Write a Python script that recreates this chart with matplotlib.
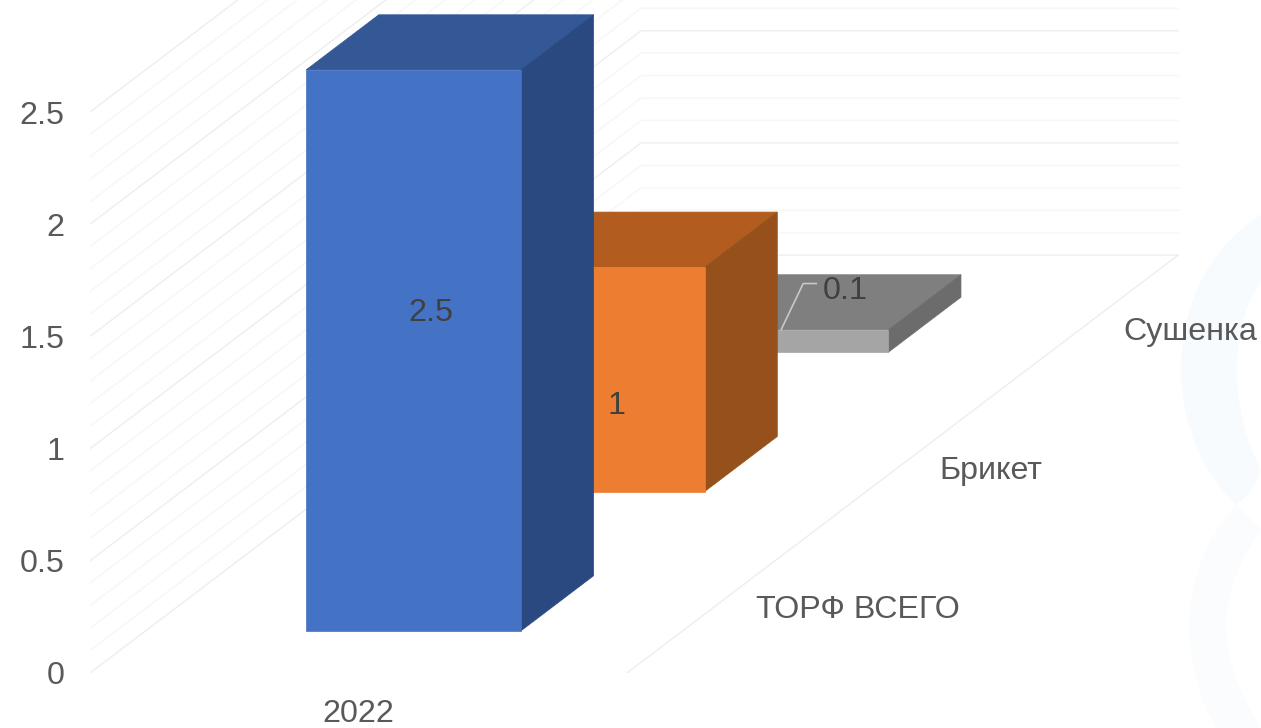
import numpy as np
import matplotlib
matplotlib.use("Agg")
import matplotlib.pyplot as plt
from matplotlib.path import Path
from matplotlib.patches import PathPatch

plt.rcParams['font.family'] = ['Liberation Sans', 'DejaVu Sans']

# data
years = ['2022']
series = ['ТОРФ ВСЕГО', 'Брикет', 'Сушенка']
values = [2.5, 1, 0.1]
value_labels = ['2.5', '1', '0.1']
y_ticks = [0, 0.5, 1, 1.5, 2, 2.5]
y_ticklabels = ['0', '0.5', '1', '1.5', '2', '2.5']

# colours per series: front, top, side
front = ['#4472C4', '#ED7D31', '#A5A5A5']
top = ['#345795', '#B25D1F', '#7F7F7F']
side = ['#2A4980', '#95501B', '#6C6C6C']

# pixel scales of the chart box
W, H = 1261, 728
X0, Y0 = 90, 673         # where x=0, value=0 sits
PX_X = 537.0             # px per category
PX_Y = 224.4             # px per value unit
DEPTH_X = 183.7 / PX_X   # oblique shift per series, in data units
DEPTH_Y = 139.3 / PX_Y

BAR_L, BAR_R = 0.299, 0.699
DEPTH_F, DEPTH_B = 0.302, 0.698
FS = 23.2


def project(x, d, v):
    return x + d * DEPTH_X, v + d * DEPTH_Y


def box_face(corners):
    xs, ys = zip(*[project(*c) for c in corners])
    return xs, ys


fig = plt.figure(figsize=(W / 100, H / 100), dpi=100)


def px(x, y):
    return x / W, 1 - y / H


# faint background swooshes on the right
def swoosh(points, color):
    verts = [px(*p) for p in points]
    codes = [Path.MOVETO] + [Path.CURVE4] * (len(points) - 1)
    fig.add_artist(PathPatch(Path(verts, codes), fc=color, ec='none',
                             transform=fig.transFigure, zorder=0))


swoosh([(1261, 215), (1205, 250), (1180, 310), (1181, 375),
        (1183, 430), (1205, 475), (1236, 505),
        (1250, 495), (1256, 485), (1261, 470),
        (1245, 440), (1237, 405), (1237, 370),
        (1237, 330), (1247, 300), (1261, 283),
        (1261, 260), (1261, 235), (1261, 215)], '#F7FBFD')
swoosh([(1236, 505), (1205, 540), (1190, 580), (1189, 625),
        (1190, 665), (1200, 700), (1216, 728),
        (1232, 728), (1247, 728), (1261, 728),
        (1240, 695), (1226, 660), (1226, 625),
        (1226, 590), (1242, 555), (1261, 530),
        (1253, 520), (1245, 513), (1236, 505)], '#FAFCFD')

ax = fig.add_axes([X0 / W, 1 - Y0 / H, (W - X0) / W, Y0 / H])
ax.patch.set_alpha(0)
ax.set_frame_on(False)
ax.set_xlim(0, (W - X0) / PX_X)
ax.set_ylim(0, Y0 / PX_Y)

# gridlines on left and back walls, every 0.1, stronger at 0.5
n_series = len(series)
for i in range(0, 26):
    v = i / 10
    col = '#EFEFEF' if i % 5 == 0 else '#F7F7F7'
    xs, ys = box_face([(0, 0, v), (0, n_series, v), (1, n_series, v)])
    ax.plot(xs, ys, color=col, lw=1.1, zorder=1)

# floor edge on the right
xs, ys = box_face([(1, 0, 0), (1, n_series, 0)])
ax.plot(xs, ys, color='#EFEFEF', lw=1.1, zorder=1)

# bars, back to front
for i in reversed(range(n_series)):
    v = values[i]
    d0, d1 = i + DEPTH_F, i + DEPTH_B
    z = 5 + (n_series - i)
    fx, fy = box_face([(BAR_L, d0, 0), (BAR_R, d0, 0), (BAR_R, d0, v), (BAR_L, d0, v)])
    tx, ty = box_face([(BAR_L, d0, v), (BAR_R, d0, v), (BAR_R, d1, v), (BAR_L, d1, v)])
    sx, sy = box_face([(BAR_R, d0, 0), (BAR_R, d1, 0), (BAR_R, d1, v), (BAR_R, d0, v)])
    ax.fill(tx, ty, color=top[i], lw=0.5, zorder=z)
    ax.fill(sx, sy, color=side[i], lw=0.5, zorder=z)
    ax.fill(fx, fy, color=front[i], lw=0.5, zorder=z)

# value labels, offset in px from the middle of each bar
label_off = [(-19, 10), (-17, -54), (28, 23)]
for i in range(n_series):
    ax_x, ax_y = project((BAR_L + BAR_R) / 2, i + 0.5, values[i] / 2)
    ax.annotate(value_labels[i], xy=(ax_x, ax_y), xytext=label_off[i],
                textcoords='offset pixels', ha='center', va='center',
                fontsize=FS, color='#404040', zorder=20, annotation_clip=False)
    if i == 2:
        # leader line of the small bar
        lx = [ax_x + o / PX_X for o in (-36, -14, -1)]
        ly = [ax_y + o / PX_Y for o in (-16, 30, 30)]
        ax.plot(lx, ly, color='#C8C8C8', lw=1.2, zorder=19)

# series names along the floor
for i, name in enumerate(series):
    ax_x, ax_y = project(1, i + 0.5, 0)
    ax.annotate(name, xy=(ax_x, ax_y), xytext=(37, -7),
                textcoords='offset pixels', ha='left', va='center',
                fontsize=FS, color='#595959', annotation_clip=False)

ax.set_yticks(y_ticks)
ax.set_yticklabels(y_ticklabels)
ax.set_xticks([0.5])
ax.set_xticklabels(years)
ax.tick_params(axis='y', length=0, pad=18.5, labelsize=FS, labelcolor='#595959')
ax.tick_params(axis='x', length=0, pad=19, labelsize=FS, labelcolor='#595959')

fig.savefig('out.png', dpi=100)
